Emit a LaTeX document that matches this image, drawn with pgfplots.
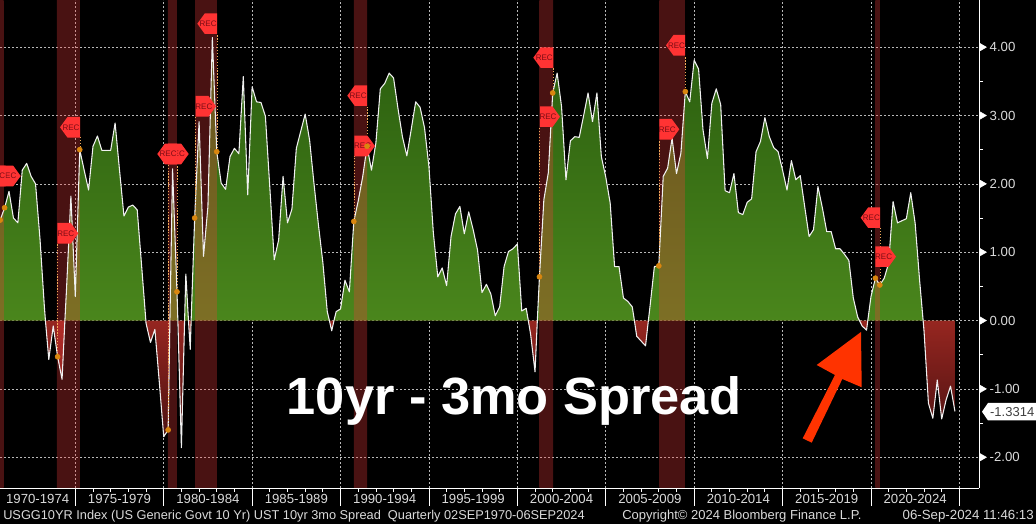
\documentclass[border=0pt]{standalone}
\usepackage{pgfplots}
\usepackage{pgfplotstable}
\usepackage{fontspec}
\setmainfont{Liberation Sans}
\pgfplotsset{compat=1.18}
\definecolor{recred}{HTML}{FF3333}
\definecolor{rectext}{HTML}{7A0C14}
\definecolor{dotor}{HTML}{D9860F}
\definecolor{arrowred}{HTML}{FF3300}
\definecolor{foot}{HTML}{DADADA}
\definecolor{bandedge}{RGB}{245,60,60}
\definecolor{bandmid}{RGB}{150,36,36}
\pgfplotstableread{
year spread
1970.75 1.47
1971.00 1.65
1971.25 1.89
1971.50 1.50
1971.75 1.43
1972.00 2.20
1972.25 2.30
1972.50 2.11
1972.75 2.00
1973.00 1.20
1973.25 0.20
1973.31 0
1973.50 -0.57
1973.75 -0.08
1974.00 -0.53
1974.25 -0.86
1974.41 0
1974.50 0.45
1974.75 1.82
1975.00 0.35
1975.25 2.50
1975.50 2.20
1975.75 1.91
1976.00 2.55
1976.25 2.70
1976.50 2.49
1976.75 2.49
1977.00 2.49
1977.25 2.89
1977.50 2.20
1977.75 1.53
1978.00 1.66
1978.25 1.69
1978.50 1.62
1978.75 0.80
1978.99 0
1979.00 -0.04
1979.25 -0.32
1979.50 -0.13
1979.75 -0.90
1980.00 -1.70
1980.25 -1.60
1980.35 0
1980.50 2.22
1980.75 0.42
1980.80 0
1981.00 -1.86
1981.18 0
1981.25 0.68
1981.40 0
1981.50 -0.42
1981.55 0
1981.75 1.50
1982.00 2.91
1982.25 0.94
1982.50 1.67
1982.75 4.14
1983.00 2.47
1983.25 2.01
1983.50 1.92
1983.75 2.40
1984.00 2.52
1984.25 2.44
1984.50 3.57
1984.75 1.84
1985.00 3.42
1985.25 3.20
1985.50 3.19
1985.75 2.99
1986.00 1.95
1986.25 0.89
1986.50 1.18
1986.75 2.11
1987.00 1.43
1987.25 1.63
1987.50 2.52
1987.75 2.77
1988.00 3.02
1988.25 2.64
1988.50 2.00
1988.75 1.40
1989.00 0.85
1989.25 0.13
1989.37 0
1989.50 -0.15
1989.63 0
1989.75 0.13
1990.00 0.17
1990.25 0.59
1990.50 0.42
1990.75 1.45
1991.00 1.75
1991.25 2.10
1991.50 2.55
1991.75 2.20
1992.00 2.60
1992.25 3.39
1992.50 3.47
1992.75 3.62
1993.00 3.55
1993.25 3.10
1993.50 2.69
1993.75 2.41
1994.00 2.80
1994.25 3.20
1994.50 3.12
1994.75 2.82
1995.00 2.25
1995.25 1.28
1995.50 0.64
1995.75 0.77
1996.00 0.51
1996.25 1.23
1996.50 1.56
1996.75 1.67
1997.00 1.27
1997.25 1.59
1997.50 1.33
1997.75 1.03
1998.00 0.41
1998.25 0.53
1998.50 0.39
1998.75 0.07
1999.00 0.20
1999.25 0.79
1999.50 1.01
1999.75 1.05
2000.00 1.12
2000.25 0.14
2000.50 0.18
2000.62 0
2000.75 -0.20
2001.00 -0.75
2001.13 0
2001.25 0.64
2001.50 1.77
2001.75 2.16
2002.00 3.33
2002.25 3.62
2002.50 3.13
2002.75 2.06
2003.00 2.63
2003.25 2.69
2003.50 2.68
2003.75 3.00
2004.00 3.33
2004.25 2.91
2004.50 3.33
2004.75 2.40
2005.00 2.10
2005.25 1.72
2005.50 0.79
2005.75 0.79
2006.00 0.33
2006.25 0.28
2006.50 0.20
2006.62 0
2006.75 -0.23
2007.00 -0.30
2007.25 -0.37
2007.41 0
2007.50 0.20
2007.75 0.79
2008.00 0.80
2008.25 2.11
2008.50 2.23
2008.75 2.67
2009.00 2.15
2009.25 2.45
2009.50 3.35
2009.75 3.20
2010.00 3.81
2010.25 3.68
2010.50 2.79
2010.75 2.37
2011.00 3.18
2011.25 3.39
2011.50 3.16
2011.75 1.90
2012.00 1.87
2012.25 2.15
2012.50 1.58
2012.75 1.55
2013.00 1.73
2013.25 1.78
2013.50 2.47
2013.75 2.62
2014.00 2.97
2014.25 2.69
2014.50 2.53
2014.75 2.47
2015.00 2.20
2015.25 1.91
2015.50 2.34
2015.75 2.06
2016.00 2.12
2016.25 1.67
2016.50 1.23
2016.75 1.33
2017.00 1.96
2017.25 1.65
2017.50 1.30
2017.75 1.30
2018.00 1.05
2018.25 1.05
2018.50 0.97
2018.75 0.88
2019.00 0.33
2019.25 0.05
2019.35 0
2019.50 -0.08
2019.75 -0.14
2019.82 0
2020.00 0.35
2020.25 0.62
2020.50 0.52
2020.75 0.62
2021.00 0.84
2021.25 1.74
2021.50 1.43
2021.75 1.46
2022.00 1.49
2022.25 1.87
2022.50 1.42
2022.75 0.59
2022.95 0
2023.00 -0.15
2023.25 -1.21
2023.50 -1.43
2023.75 -0.87
2024.00 -1.44
2024.25 -1.16
2024.50 -0.96
2024.75 -1.33
}\spreadtable
\pgfplotstableread{
year spread
1970.75 1.47
1971.00 1.65
1974.00 -0.53
1975.25 2.50
1980.25 -1.60
1980.75 0.42
1981.75 1.50
1983.00 2.47
1990.75 1.45
1991.50 2.55
2001.25 0.64
2002.00 3.33
2008.00 0.80
2009.50 3.35
2020.25 0.62
2020.50 0.52
}\rectable
\pgfplotsset{
  common/.style={
    scale only axis, width=734.25pt, height=366pt,
    at={(0pt,27pt)}, anchor=south west,
    xmin=1970.74, xmax=2026.11, ymin=-2.45, ymax=4.69,
    axis x line*=bottom, axis y line*=right,
    axis line style={white,line width=.7pt},
    tick style={white,line width=.6pt},
    tick align=outside,
  },
  band/.style={draw=none, fill opacity=.3,
    left color=bandedge, middle color=bandmid, right color=bandedge,
    forget plot},
}
\newcommand{\fl}[3]{% left-pointing flag: tip x, right edge x, y
  \fill[recred] (#1,#3) -- (#1+7.5,#3-10.3) -- (#2,#3-10.3) -- (#2,#3+10.3) -- (#1+7.5,#3+10.3) -- cycle;
  \node[text=rectext,font=\fontsize{6}{6.5}\selectfont,inner sep=0pt] at ({(#1+#2)/2+1},#3) {REC};}
\newcommand{\fr}[3]{% right-pointing flag: left edge x, tip x, y
  \fill[recred] (#1,#3-10.3) -- (#2-7.5,#3-10.3) -- (#2,#3) -- (#2-7.5,#3+10.3) -- (#1,#3+10.3) -- cycle;
  \node[text=rectext,font=\fontsize{6}{6.5}\selectfont,inner sep=0pt] at ({(#1+#2)/2-2},#3) {REC};}
\begin{document}
\begin{tikzpicture}
\fill[black,use as bounding box] (0,0) rectangle (777pt,393pt);
\begin{axis}[common,
  xtick={1975,1980,...,2025}, xticklabels={},
  minor x tick num=4, major tick length=13.5pt, minor tick length=3pt,
  ytick={-2,-1,0,1,2,3,4}, yticklabels={}, ytick style={draw=none},
  grid=major,
  grid style={dash pattern=on 1.4pt off 1.6pt, color=white!72!black, line width=.4pt},
  extra x ticks={1972.87,1977.5,1982.5,1987.5,1992.5,1997.5,2002.5,2007.5,2012.5,2017.5,2022.5},
  extra x tick labels={1970-1974,1975-1979,1980-1984,1985-1989,1990-1994,1995-1999,2000-2004,2005-2009,2010-2014,2015-2019,2020-2024},
  extra x tick style={major tick length=0pt, grid=none, tick style={draw=none}},
  xticklabel style={text=foot,font=\fontsize{9.9}{11}\selectfont,yshift=-1pt},
]
\addplot[draw=none, forget plot,
  top color={rgb,255:red,42;green,93;blue,15}, bottom color={rgb,255:red,74;green,134;blue,28},
  y filter/.expression={y<0 ? 0 : y}]
  table[x=year,y=spread]{\spreadtable} \closedcycle;
\addplot[draw=none, forget plot,
  top color={rgb,255:red,150;green,38;blue,32}, bottom color={rgb,255:red,70;green,16;blue,16},
  y filter/.expression={y>0 ? 0 : y}]
  table[x=year,y=spread]{\spreadtable} \closedcycle;
\addplot[band] coordinates {(1970.74,-2.45)(1970.74,4.69)(1970.95,4.69)(1970.95,-2.45)} -- cycle;
\addplot[band] coordinates {(1973.96,-2.45)(1973.96,4.69)(1975.26,4.69)(1975.26,-2.45)} -- cycle;
\addplot[band] coordinates {(1980.24,-2.45)(1980.24,4.69)(1980.75,4.69)(1980.75,-2.45)} -- cycle;
\addplot[band] coordinates {(1981.77,-2.45)(1981.77,4.69)(1983.0,4.69)(1983.0,-2.45)} -- cycle;
\addplot[band] coordinates {(1990.76,-2.45)(1990.76,4.69)(1991.5,4.69)(1991.5,-2.45)} -- cycle;
\addplot[band] coordinates {(2001.24,-2.45)(2001.24,4.69)(2002.03,4.69)(2002.03,-2.45)} -- cycle;
\addplot[band] coordinates {(2008.03,-2.45)(2008.03,4.69)(2009.48,4.69)(2009.48,-2.45)} -- cycle;
\addplot[band] coordinates {(2020.25,-2.45)(2020.25,4.69)(2020.51,4.69)(2020.51,-2.45)} -- cycle;
\addplot[color=white!94!black, line width=.8pt, line join=round, forget plot]
  table[x=year,y=spread]{\spreadtable};
\end{axis}
% pixel-coordinate overlay for annotations
\begin{scope}[x=.75pt,y=-.75pt,yshift=393pt]
  \begin{scope}[draw={rgb,255:red,240;green,170;blue,90},line width=.35pt,dash pattern=on 1pt off 1.2pt]
    \draw (57.5,357) -- (57.5,244); \draw (80,150) -- (80,137);
    \draw (168,430) -- (168,165); \draw (177,291) -- (177,165);
    \draw (195.7,218) -- (195.7,117); \draw (217,151) -- (217,34);
    \draw (354,221) -- (354,156); \draw (367,146) -- (367,106);
    \draw (539.3,276) -- (539.3,127); \draw (553.3,93) -- (553.3,68);
    \draw (659.3,266) -- (659.3,140); \draw (685,91) -- (685,56);
    \draw (880,285) -- (880,228);
  \end{scope}
  \fr{-1}{20.7}{176} \fl{-14}{5.6}{176}
  \fl{60}{80}{127.3} \fr{57.3}{78.3}{233.3}
  \fr{168}{188.7}{154} \fl{157.3}{177}{154}
  \fl{197.3}{217}{23.7} \fr{195.7}{216}{106.3}
  \fl{347.3}{367}{95.7} \fr{354.3}{375}{146}
  \fl{533.3}{553.3}{57.7} \fr{540}{560}{116.7}
  \fl{666}{685}{45.3} \fr{659.3}{679.3}{129.3}
  \fl{860.7}{880}{217.7} \fr{875.3}{896}{256.7}
  % big caption
  \node[text=white,font=\bfseries\fontsize{39.3}{44}\selectfont,inner sep=0pt] at (514,401) {10yr - 3mo Spread};
  % arrow
  \fill[arrowred] (861,332) -- (816.7,365) -- (835,375) -- (802.7,438.3) -- (811.7,442.7) -- (842.3,379) -- (861.7,387.3) -- cycle;
  % last value tag
  \fill[white] (982,411.7) -- (988,403) -- (1036,403) -- (1036,420.5) -- (988,420.5) -- cycle;
  \node[text=black!75,font=\fontsize{9.75}{11}\selectfont,inner sep=0pt,anchor=east] at (1034.5,412) {-1.3314};
  % footer
  \node[text=foot,font=\fontsize{9.58}{11}\selectfont,inner sep=0pt,anchor=west] at (3,516) {USGG10YR Index (US Generic Govt 10 Yr) UST 10yr 3mo Spread\ \ Quarterly 02SEP1970-06SEP2024};
  \node[text=foot,font=\fontsize{9.75}{11}\selectfont,inner sep=0pt,anchor=west] at (622,516) {Copyright© 2024 Bloomberg Finance L.P.};
  \node[text=foot,font=\fontsize{9.95}{11}\selectfont,inner sep=0pt,anchor=east] at (1034,516) {06-Sep-2024 11:46:13};
\end{scope}
\begin{axis}[common, clip=false,
  xtick=\empty,
  ytick={-2,-1,0,1,2,3,4}, minor y tick num=1,
  major tick length=0pt, minor tick length=3pt,
  yticklabel pos=right,
  yticklabel style={text=foot,font=\fontsize{9.9}{11}\selectfont,xshift=4.5pt,
    /pgf/number format/.cd,fixed,fixed zerofill,precision=2,assume math mode=true},
]
\addplot[only marks, mark=*, mark size=1.9pt, color=dotor, forget plot]
  table[x=year,y=spread]{\rectable};
\addplot[only marks, mark=triangle*, mark size=3.4pt, color=white, forget plot,
  mark options={rotate=-90}]
  coordinates {(2026.27,-2)(2026.27,-1)(2026.27,0)(2026.27,1)(2026.27,2)(2026.27,3)(2026.27,4)};
\end{axis}
\end{tikzpicture}
\end{document}
